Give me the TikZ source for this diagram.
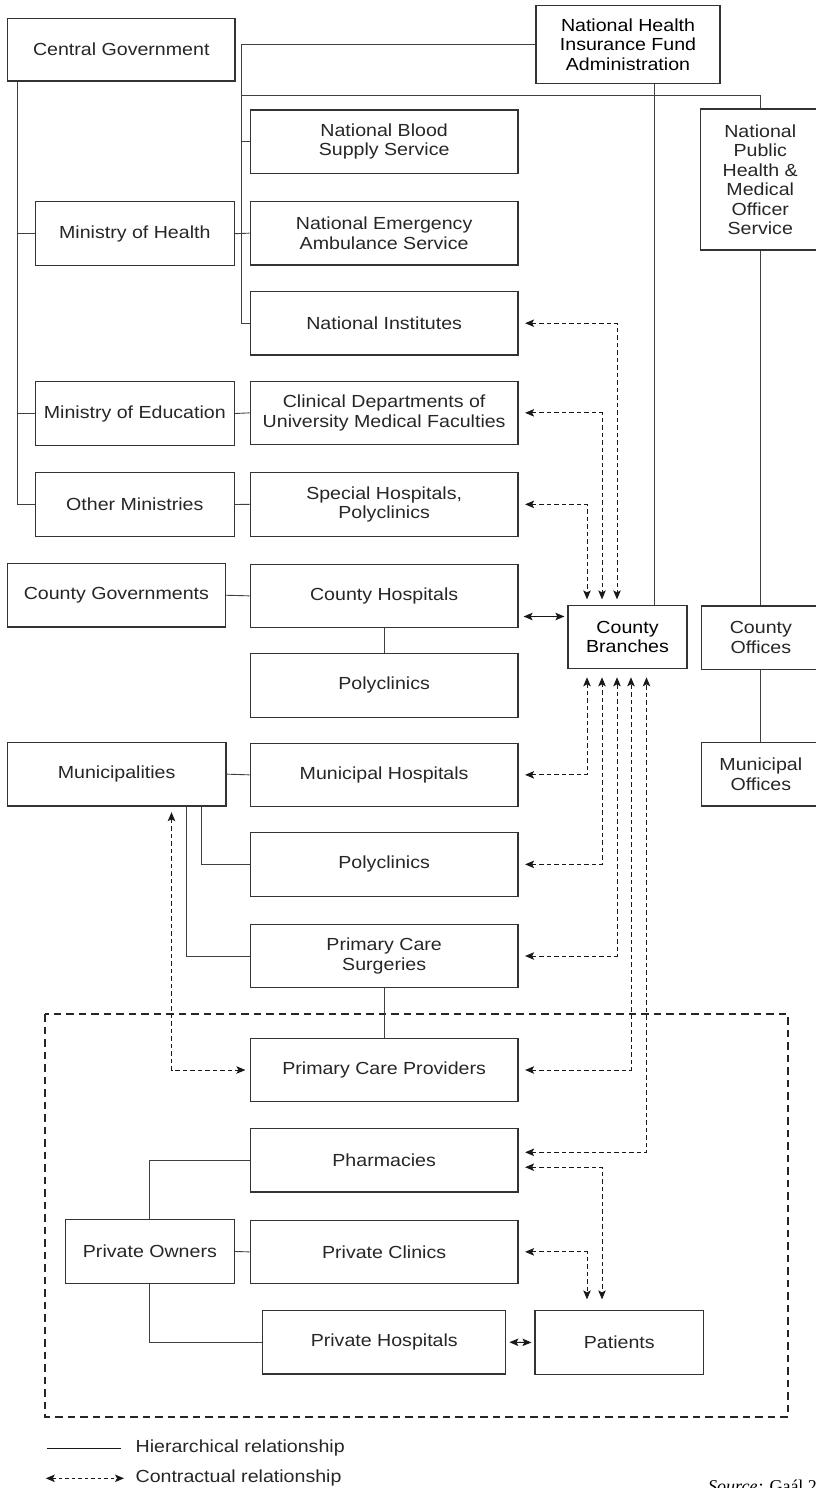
\documentclass[tikz,border=0pt]{standalone}
\usepackage{fontspec}
\setmainfont{Liberation Sans}[FakeStretch=1.12]
\newfontfamily\srcfont{Liberation Serif}
\usetikzlibrary{arrows.meta,calc}
\begin{document}
\begin{tikzpicture}[x=1pt,y=-1pt,
  box/.style={draw=black!80, line width=1.2pt, minimum width=267.7pt, minimum height=63.5pt,
    align=center, inner sep=0pt, font=\fontsize{17.5}{19.5}\selectfont, text=black!85},
  sidebox/.style={box, minimum width=198.8pt, minimum height=64pt},
  hier/.style={draw=black!75, line width=0.9pt},
  tip/.tip={Stealth[length=9pt,width=7.5pt,inset=2pt]},
  contr/.style={draw=black!90, line width=1pt, dash pattern=on 4.5pt off 3pt, tip-tip},
  harrow/.style={draw=black!90, line width=1pt, tip-tip},
  bigdash/.style={draw=black!85, line width=1.8pt, dash pattern=on 7.5pt off 5pt},
  legtext/.style={anchor=west, inner sep=0pt, font=\fontsize{17.5}{19.5}\selectfont, text=black!85}
]
\useasboundingbox (0,0) rectangle (816,1488);

% boxes
\node[box, minimum width=227.5pt, minimum height=62.7pt] (CG) at (121.25,49.65) {Central Government};
\node[box, minimum width=184pt, minimum height=77.6pt, text=black] (NHI) at (628,44.5) {National Health\\Insurance Fund\\Administration};
\node[box, minimum width=119.5pt, minimum height=141pt] (NPH) at (760.25,179.5) {National\\Public\\Health \&\\Medical\\Officer\\Service};
\node[box] (NBSS) at (384.15,141.65) {National Blood\\Supply Service};
\node[sidebox] (MoH) at (134.8,233.7) {Ministry of Health};
\node[box] (NEAS) at (384.15,233.15) {National Emergency\\Ambulance Service};
\node[box] (NI) at (384.15,323.2) {National Institutes};
\node[sidebox] (MoE) at (134.8,413.5) {Ministry of Education};
\node[box] (CD) at (384.15,412.85) {Clinical Departments of\\University Medical Faculties};
\node[sidebox] (OM) at (134.8,504.5) {Other Ministries};
\node[box] (SH) at (384.15,504.35) {Special Hospitals,\\Polyclinics};
\node[box, minimum width=218.2pt] (CGov) at (116.4,595.25) {County Governments};
\node[box] (CH) at (384.15,595.85) {County Hospitals};
\node[box, minimum width=119pt, minimum height=63pt, text=black] (CB) at (627.5,637.2) {County\\Branches};
\node[box, minimum width=118.3pt, minimum height=63.3pt] (CO) at (760.85,637.65) {County\\Offices};
\node[box, minimum width=118.3pt, minimum height=63.3pt] (MO) at (760.85,774.35) {Municipal\\Offices};
\node[box] (P1) at (384.15,685.35) {Polyclinics};
\node[box, minimum width=218.7pt] (Mun) at (116.65,774.15) {Municipalities};
\node[box] (MH) at (384.15,774.85) {Municipal Hospitals};
\node[box] (P2) at (384.15,864.35) {Polyclinics};
\node[box] (PCS) at (384.15,956) {Primary Care\\Surgeries};
\node[box] (PCP) at (384.15,1070) {Primary Care Providers};
\node[box] (Ph) at (384.15,1160.2) {Pharmacies};
\node[box, minimum width=168.6pt, minimum height=63.6pt] (PO) at (149.9,1251.5) {Private Owners};
\node[box] (PC) at (384.15,1251.85) {Private Clinics};
\node[box, minimum width=243pt, minimum height=63.7pt] (PH) at (384.3,1342.15) {Private Hospitals};
\node[box, minimum width=168.6pt, minimum height=63.6pt] (Pat) at (619.3,1342.5) {Patients};

% private sector frame
\draw[bigdash] (45.3,1014) rectangle (788,1416.7);

% helper coordinates
\coordinate (sA) at (17,0);
\coordinate (sB) at (241.5,0);
\coordinate (yH) at (0,95);
\coordinate (vN) at (654.7,0);
\coordinate (m1) at (201,0);
\coordinate (m2) at (186,0);
\coordinate (xm) at (171.5,0);
\coordinate (xa) at (587,0);
\coordinate (xb) at (602,0);
\coordinate (xc) at (617,0);
\coordinate (xd) at (631,0);
\coordinate (xe) at (646.5,0);
\coordinate (yCH) at (0,616.5);

% hierarchical lines
\draw[hier] (CG.south -| sA) |- (OM.west);
\draw[hier] (sA |- MoH.west) -- (MoH.west);
\draw[hier] (sA |- MoE.west) -- (MoE.west);
\draw[hier] (NHI.west) -- (NHI.west -| sB) |- (NI.west);
\draw[hier] (sB |- NBSS.west) -- (NBSS.west);
\draw[hier] (sB |- yH) -| (NPH.north);
\draw[hier] (MoH.east) -- (NEAS.west);
\draw[hier] (MoE.east) -- (CD.west);
\draw[hier] (OM.east) -- (SH.west);
\draw[hier] (NHI.south -| vN) -- (CB.north -| vN);
\draw[hier] (NPH.south) -- (NPH.south |- CO.north);
\draw[hier] (CO.south) -- (CO.south |- MO.north);
\draw[hier] (CGov.east) -- (CH.west);
\draw[hier] (CH.south) -- (P1.north);
\draw[hier] (Mun.east) -- (MH.west);
\draw[hier] (Mun.south -| m1) |- (P2.west);
\draw[hier] (Mun.south -| m2) |- (PCS.west);
\draw[hier] (PCS.south) -- (PCP.north);
\draw[hier] (PO.north) |- (Ph.west);
\draw[hier] (PO.east) -- (PC.west);
\draw[hier] (PO.south) |- (PH.west);

% contractual relationships
\draw[contr, shorten <=6.5pt, shorten >=5.7pt] (NI.east) -| (xc |- CB.north);
\draw[contr, shorten <=6.5pt, shorten >=5.7pt] (CD.east) -| (xb |- CB.north);
\draw[contr, shorten <=6.5pt, shorten >=5.7pt] (SH.east) -| (xa |- CB.north);
\draw[contr, shorten <=6.5pt, shorten >=8pt] (MH.east) -| (xa |- CB.south);
\draw[contr, shorten <=6.5pt, shorten >=8pt] (P2.east) -| (xb |- CB.south);
\draw[contr, shorten <=6.5pt, shorten >=8pt] (PCS.east) -| (xc |- CB.south);
\draw[contr, shorten <=6.5pt, shorten >=8pt] (PCP.east) -| (xd |- CB.south);
\draw[contr, shorten <=6.5pt, shorten >=8pt] ([yshift=7.9pt]Ph.east) -| (xe |- CB.south);
\draw[contr, shorten <=6.5pt, shorten >=10.7pt] ([yshift=-7pt]Ph.east) -| (xb |- Pat.north);
\draw[contr, shorten <=6.5pt, shorten >=10.7pt] (PC.east) -| (xa |- Pat.north);
\draw[contr, shorten <=5.7pt, shorten >=4.3pt] (Mun.south -| xm) |- (PCP.west);
\draw[harrow, shorten <=5pt, shorten >=3pt] (CH.east |- yCH) -- (CB.west |- yCH);
\draw[harrow, shorten <=3pt, shorten >=3pt] (PH.east) -- (Pat.west);

% legend
\coordinate (l1a) at (46.9,1448.3);
\coordinate (l1b) at (121.3,1448.3);
\coordinate (l2a) at (45.8,1478.3);
\coordinate (l2b) at (124,1478.3);
\draw[hier, draw=black!90] (l1a) -- (l1b);
\draw[contr, dash pattern=on 3.5pt off 3pt] (l2a) -- (l2b);
\node[legtext] (lt1) at (135.4,1447.5) {Hierarchical relationship};
\node[legtext] (lt2) at (135.4,1477.5) {Contractual relationship};
\node[anchor=base west, inner sep=0pt, font=\srcfont\fontsize{18}{20}\selectfont] (src) at (708,1492) {\textit{Source:} Gaál 2004};
\end{tikzpicture}
\end{document}
